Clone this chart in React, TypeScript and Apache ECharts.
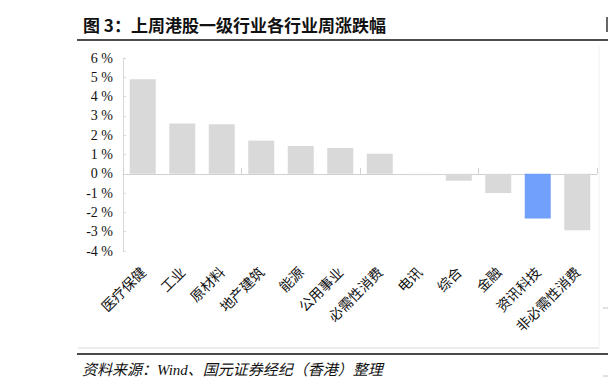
import React, { useEffect, useRef } from "react";
import * as echarts from "echarts";

const categories = ["医疗保健", "工业", "原材料", "地产建筑", "能源", "公用事业", "必需性消费", "电讯", "综合", "金融", "资讯科技", "非必需性消费"];
const values = [4.9, 2.6, 2.57, 1.72, 1.44, 1.34, 1.04, -0.07, -0.36, -1.0, -2.31, -2.93];
const highlighted = ["资讯科技"];
const yTicks = { min: -4, max: 6, interval: 1 };
const titleText = "图 3：上周港股一级行业各行业周涨跌幅";
const sourceText = "资料来源：Wind、国元证券经纪（香港）整理";

const CJK = '"Noto Sans CJK SC", "Liberation Serif", serif';

export default function App() {
  const ref = useRef<HTMLDivElement>(null);
  useEffect(() => {
    if (!ref.current) return;
    const chart = echarts.init(ref.current, undefined, { renderer: "svg" });
    chart.setOption({
      animation: false,
      backgroundColor: "#ffffff",
      grid: { left: 123, right: 11, top: 58, bottom: 140, containLabel: false },
      xAxis: [
        {
          type: "category",
          data: categories,
          position: "bottom",
          axisLine: { show: true, onZero: true, lineStyle: { color: "#d0d0d0", width: 1 } },
          axisTick: { show: true, inside: true, length: 6, lineStyle: { color: "#d0d0d0" } },
          axisLabel: { show: false },
          splitLine: { show: false },
        },
        {
          type: "category",
          data: categories,
          position: "bottom",
          axisLine: { show: false },
          axisTick: { show: false },
          splitLine: { show: false },
          axisLabel: {
            show: true,
            interval: 0,
            rotate: 45,
            margin: 18,
            fontSize: 14,
            color: "#111",
            fontFamily: CJK,
          },
        },
      ],
      yAxis: {
        type: "value",
        min: yTicks.min,
        max: yTicks.max,
        interval: yTicks.interval,
        axisLine: { show: true, lineStyle: { color: "#d9d9d9" } },
        axisTick: { show: true, inside: true, length: 3, lineStyle: { color: "#d9d9d9" } },
        splitLine: { show: false },
        axisLabel: {
          formatter: (v: number) => `${v} %`,
          fontFamily: '"Liberation Serif", serif',
          fontSize: 14,
          color: "#111",
          margin: 10,
        },
      },
      series: [
        {
          type: "bar",
          xAxisIndex: 0,
          barWidth: 26,
          data: values.map((v, i) => ({
            value: v,
            itemStyle: { color: highlighted.includes(categories[i]) ? "#70a0fb" : "#d9d9d9" },
          })),
        },
      ],
      graphic: [
        {
          type: "text",
          left: 83,
          top: 16,
          style: { text: titleText, font: `bold 17px ${CJK}`, fill: "#111" },
        },
        {
          type: "line",
          shape: { x1: 607, y1: 17, x2: 607, y2: 32 },
          style: { stroke: "#333", lineWidth: 1.5 },
        },
        {
          type: "line",
          shape: { x1: 77, y1: 40, x2: 608, y2: 40 },
          style: { stroke: "#111", lineWidth: 1.5 },
        },
        {
          type: "line",
          shape: { x1: 599, y1: 45, x2: 599, y2: 348 },
          style: { stroke: "#f0f0f0", lineWidth: 1 },
        },
        {
          type: "line",
          shape: { x1: 78, y1: 348, x2: 599, y2: 348 },
          style: { stroke: "#d9d9d9", lineWidth: 1 },
        },
        {
          type: "line",
          shape: { x1: 77, y1: 354, x2: 608, y2: 354 },
          style: { stroke: "#111", lineWidth: 1.5 },
        },
        {
          type: "line",
          shape: { x1: 603, y1: 308, x2: 608, y2: 308 },
          style: { stroke: "#c0c0c0", lineWidth: 1 },
        },
        {
          type: "line",
          shape: { x1: 603, y1: 376, x2: 608, y2: 376 },
          style: { stroke: "#c0c0c0", lineWidth: 1 },
        },
        {
          type: "text",
          left: 82,
          top: 362,
          style: {
            text: sourceText,
            font: `italic 15px "Liberation Serif", "Noto Sans CJK SC", serif`,
            fill: "#111",
          },
        },
      ],
    });
    return () => chart.dispose();
  }, []);
  return (
    <div
      ref={ref}
      style={{ position: "fixed", left: 0, top: 0, width: 608, height: 391 }}
    />
  );
}
